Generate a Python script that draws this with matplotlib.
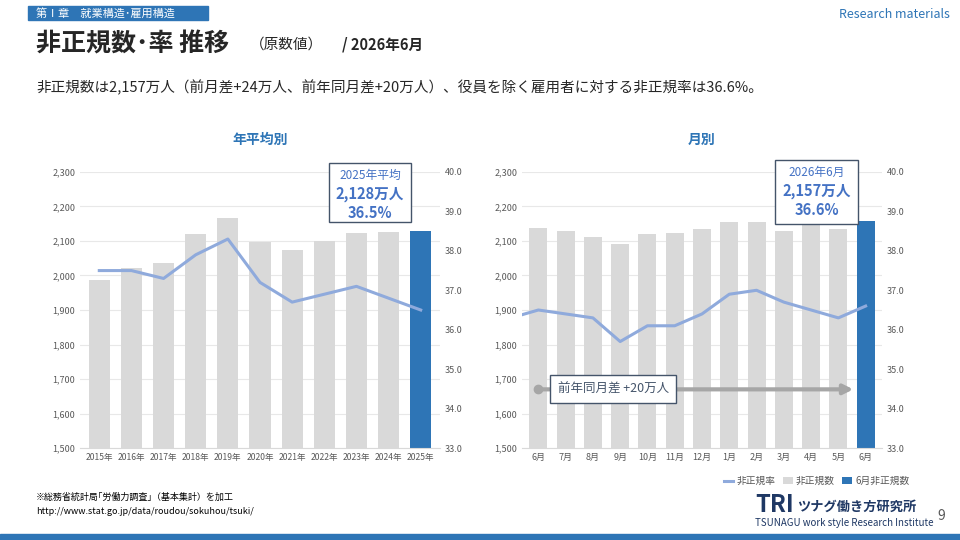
import matplotlib.pyplot as plt
from matplotlib.patches import Rectangle

plt.rcParams['font.family'] = ['Noto Sans CJK JP', 'DejaVu Sans']

# annual data
years = ['2015年', '2016年', '2017年', '2018年', '2019年', '2020年', '2021年', '2022年', '2023年', '2024年', '2025年']
year_counts = [1986, 2023, 2036, 2120, 2167, 2097, 2075, 2101, 2124, 2126, 2128]
year_rates = [37.5, 37.5, 37.3, 37.9, 38.3, 37.2, 36.7, 36.9, 37.1, 36.8, 36.5]

# monthly data
months = ['6月', '7月', '8月', '9月', '10月', '11月', '12月', '1月', '2月', '3月', '4月', '5月', '6月']
month_counts = [2138, 2130, 2112, 2092, 2120, 2124, 2135, 2156, 2156, 2130, 2148, 2135, 2157]
prev_rate = 36.3  # May of previous year, only partly visible
month_rates = [36.5, 36.4, 36.3, 35.7, 36.1, 36.1, 36.4, 36.9, 37.0, 36.7, 36.5, 36.3, 36.6]

GREY = '#d9d9d9'
BLUE = '#2e75b6'
LINE = '#8faadc'
TXT = '#595959'

fig = plt.figure(figsize=(9.6, 5.4), dpi=100)
W, H = 960, 540

def ax_at(x0, y0, x1, y1):
    return fig.add_axes([x0 / W, 1 - y1 / H, (x1 - x0) / W, (y1 - y0) / H])

def style(ax, ax2, labels):
    ax.set_ylim(1500, 2300)
    ax.set_yticks(range(1500, 2301, 100))
    ax.set_yticklabels([f'{v:,}' for v in range(1500, 2301, 100)])
    ax2.set_ylim(33, 40)
    ax2.set_yticks(range(33, 41))
    ax2.set_yticklabels([f'{v:.1f}' for v in range(33, 41)])
    ax.set_xticks(range(len(labels)))
    ax.set_xticklabels(labels)
    for a in (ax, ax2):
        a.tick_params(length=0, labelsize=6.5, colors=TXT)
        for s in a.spines.values():
            s.set_visible(False)
    ax.spines['bottom'].set_visible(True)
    ax.spines['bottom'].set_color('#d9d9d9')
    ax.grid(axis='y', color='#e8e8e8', lw=0.8)
    ax.set_axisbelow(True)

def callout(x0, y0, x1, y1, head, count, rate):
    fig.patches.append(Rectangle((x0 / W, 1 - y1 / H), (x1 - x0) / W, (y1 - y0) / H,
                                 transform=fig.transFigure, facecolor='white',
                                 edgecolor='#44546a', lw=1, zorder=5))
    cx = (x0 + x1) / 2 / W
    fig.text(cx, 1 - (y0 + 12) / H, head, ha='center', va='center', fontsize=8.5,
             color='#4472c4', zorder=6)
    fig.text(cx, 1 - (y0 + 31) / H, f'{count:,}万人', ha='center', va='center', fontsize=10.5,
             color='#4472c4', fontweight='bold', zorder=6)
    fig.text(cx, 1 - (y0 + 50) / H, f'{rate}%', ha='center', va='center', fontsize=10.5,
             color='#4472c4', fontweight='bold', zorder=6)

# left chart
ax = ax_at(80, 172, 440, 448)
ax2 = ax.twinx()
n = len(years)
ax.bar(range(n), year_counts, width=0.66, color=[GREY] * (n - 1) + [BLUE])
ax2.plot(range(n), year_rates, color=LINE, lw=2.2)
ax.set_xlim(-0.6, n - 0.4)
style(ax, ax2, years)
ax.tick_params(axis='x', labelsize=6.2)
ax.set_title('年平均別', color=BLUE, fontsize=10, fontweight='bold', pad=20)
callout(329, 163, 411, 222, '2025年平均', year_counts[-1], year_rates[-1])

# right chart
bx = ax_at(522, 172, 882, 448)
bx2 = bx.twinx()
m = len(months)
bx.bar(range(m), month_counts, width=0.66, color=[GREY] * (m - 1) + [BLUE], label='非正規数')
bx.bar([m - 1], [month_counts[-1]], width=0.66, color=BLUE, label='6月非正規数')
bx2.plot(range(-1, m), [prev_rate] + month_rates, color=LINE, lw=2.2, label='非正規率')
bx.set_xlim(-0.6, m - 0.4)
style(bx, bx2, months)
bx.set_title('月別', color=BLUE, fontsize=10, fontweight='bold', pad=20)
bx.annotate('', xy=(m - 1.35, 1670), xytext=(0, 1670),
            arrowprops=dict(arrowstyle='-|>', color='#a6a6a6', lw=3, mutation_scale=14))
bx.plot([0], [1670], 'o', color='#a6a6a6', ms=6)
bx.text(2.75, 1670, '前年同月差 +20万人', ha='center', va='center', fontsize=9, color='#44546a',
        bbox=dict(facecolor='white', edgecolor='#44546a', boxstyle='square,pad=0.6'))
callout(775, 160, 858, 224, '2026年6月', month_counts[-1], month_rates[-1])
h1, l1 = bx2.get_legend_handles_labels()
h2, l2 = bx.get_legend_handles_labels()
bx.legend(h1 + h2, l1 + l2, loc='upper right', bbox_to_anchor=(1.1, -0.07), ncol=3, frameon=False,
          fontsize=7, handlelength=1, handletextpad=0.3, columnspacing=0.8, labelcolor=TXT)

# header and footer
fig.patches.append(Rectangle((28 / W, 1 - 20 / H), 180 / W, 14 / H, transform=fig.transFigure,
                             color='#2e75b6', zorder=0))
fig.text(36 / W, 1 - 13 / H, '第Ⅰ章　就業構造･雇用構造', fontsize=8, color='white', va='center')
fig.text(950 / W, 1 - 15 / H, 'Research materials', fontsize=9, color='#2e75b6', style='italic',
         ha='right', va='center')
fig.text(36 / W, 1 - 44 / H, '非正規数･率 推移', fontsize=18, fontweight='bold', color='#262626', va='center')
fig.text(250 / W, 1 - 45 / H, '（原数値）', fontsize=10.5, color='#262626', va='center')
fig.text(342 / W, 1 - 45 / H, '/ 2026年6月', fontsize=10.5, fontweight='bold', color='#262626', va='center')
fig.text(36 / W, 1 - 88 / H,
         '非正規数は2,157万人（前月差+24万人、前年同月差+20万人）、役員を除く雇用者に対する非正規率は36.6%。',
         fontsize=10.5, color='#262626', va='center')
fig.text(36 / W, 1 - 500 / H, '※総務省統計局｢労働力調査｣（基本集計）を加工', fontsize=6.5, color='black')
fig.text(36 / W, 1 - 514 / H, 'http://www.stat.go.jp/data/roudou/sokuhou/tsuki/', fontsize=6.5, color='black')
fig.text(755 / W, 1 - 505 / H, 'TRI', fontsize=17, fontweight='bold', color='#1f3864', va='center')
fig.text(797 / W, 1 - 507 / H, 'ツナグ働き方研究所', fontsize=9.5, fontweight='bold', color='#1f3864', va='center')
fig.text(755 / W, 1 - 523 / H, 'TSUNAGU work style Research Institute', fontsize=7, color='#1f3864', va='center')
fig.text(945 / W, 1 - 516 / H, '9', fontsize=10, color=TXT, ha='right', va='center')
fig.patches.append(Rectangle((0, 0), 1, 6 / H, transform=fig.transFigure, color='#2e75b6', zorder=0))

fig.savefig('out.png', dpi=100)
